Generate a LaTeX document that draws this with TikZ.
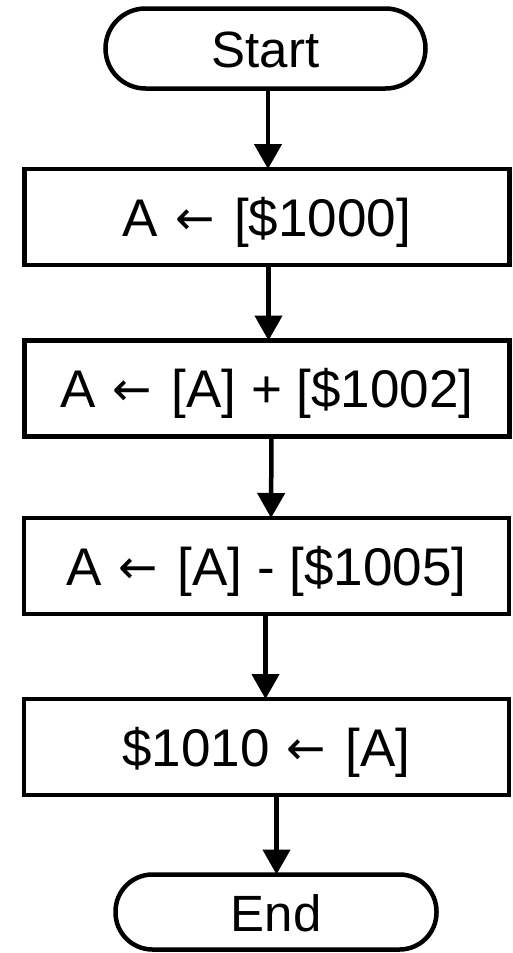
\documentclass[tikz,border=0pt]{standalone}
\usepackage{fontspec}
\setmainfont{Liberation Sans}
\newfontfamily\arrfont{DejaVu Sans}
\newcommand\larr{{\kern2pt\arrfont\fontsize{47}{50}\selectfont\raisebox{2pt}{←}\kern5pt}}
\usetikzlibrary{arrows.meta}
\begin{document}
\begin{tikzpicture}[x=1pt,y=-1pt,
  lw/.style={line width=4.5pt},
  txt/.style={font=\fontsize{53}{60}\selectfont,text height=38pt,text depth=0pt},
  term/.style={draw,lw,rectangle,rounded corners=40pt,minimum width=320pt,minimum height=80pt,inner sep=0pt,outer sep=0pt,txt},
  proc/.style={draw,lw,rectangle,minimum width=485pt,minimum height=96pt,inner sep=0pt,outer sep=0pt,txt},
  conn/.style={lw,-{Triangle[width=27pt,length=25pt]}}]
\useasboundingbox (0,0) rectangle (512,953);
\node[term,font=\fontsize{51}{60}\selectfont] (start) at (265.5,48.5) {Start};
\node[proc] (b1) at (267,217) {A \larr{} [\$1000]};
\node[proc] (b2) at (267,388.5) {A \larr{} [A] + [\$1002]};
\node[proc] (b3) at (266.5,566) {A \larr{} [A] - [\$1005]};
\node[proc] (b4) at (266.5,747) {\$1010 \larr{} [A]};
\node[term,font=\fontsize{51}{60}\selectfont,minimum width=321pt,minimum height=75pt,rounded corners=37pt] (end) at (276,912) {End};
\draw[conn] ([xshift=2.5pt]start.south) -- ([xshift=1pt]b1.north);
\draw[conn] ([xshift=1.5pt]b1.south) -- ([xshift=1.5pt]b2.north);
\draw[conn] ([xshift=4.5pt]b2.south) -- ([xshift=4.5pt]b3.north);
\draw[conn] ([xshift=-1pt]b3.south) -- ([xshift=-1pt]b4.north);
\draw[conn] ([xshift=10pt]b4.south) -- ([xshift=0.5pt]end.north);
\end{tikzpicture}
\end{document}
